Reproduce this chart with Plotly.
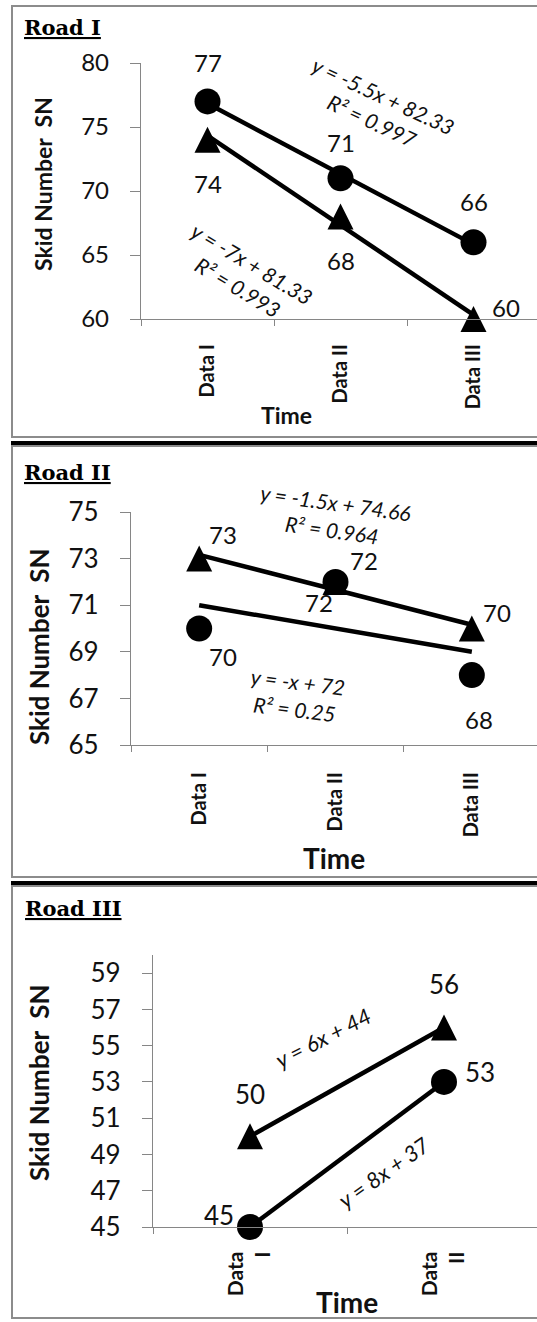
import plotly.graph_objects as go

# ---------------- data ----------------
road1_cats = ["Data I", "Data II", "Data III"]
road1_ticktext = ["Data I", "Data II", "Data III"]
road1_circles = [77, 71, 66]
road1_triangles = [74, 68, 60]
road1_circle_fit = [-5.5, 82.33]      # slope, intercept of the trendline
road1_circle_r2 = 0.997
road1_triangle_fit = [-7, 81.33]
road1_triangle_r2 = 0.993
road1_yticks = [60, 65, 70, 75, 80]

road2_cats = ["Data I", "Data II", "Data III"]
road2_ticktext = ["Data I", "Data II", "Data III"]
road2_circles = [70, 72, 68]
road2_triangles = [73, 72, 70]
road2_circle_fit = [-1, 72]
road2_circle_r2 = 0.25
road2_triangle_fit = [-1.5, 74.66]
road2_triangle_r2 = 0.964
road2_yticks = [65, 67, 69, 71, 73, 75]

road3_cats = ["Data I", "Data II"]
road3_ticktext = ["Data<br>I", "Data<br>II"]
road3_circles = [45, 53]
road3_triangles = [50, 56]
road3_circle_fit = [8, 37]
road3_circle_r2 = None
road3_triangle_fit = [6, 44]
road3_triangle_r2 = None
road3_yticks = [45, 47, 49, 51, 53, 55, 57, 59]

panel_titles = ["Road I", "Road II", "Road III"]
y_title = "Skid Number&nbsp; SN"
x_title = "Time"

panels = [
    dict(cats=road1_cats, ticktext=road1_ticktext, circles=road1_circles, triangles=road1_triangles,
         cfit=road1_circle_fit, cr2=road1_circle_r2, tfit=road1_triangle_fit, tr2=road1_triangle_r2,
         yticks=road1_yticks, title=panel_titles[0]),
    dict(cats=road2_cats, ticktext=road2_ticktext, circles=road2_circles, triangles=road2_triangles,
         cfit=road2_circle_fit, cr2=road2_circle_r2, tfit=road2_triangle_fit, tr2=road2_triangle_r2,
         yticks=road2_yticks, title=panel_titles[1]),
    dict(cats=road3_cats, ticktext=road3_ticktext, circles=road3_circles, triangles=road3_triangles,
         cfit=road3_circle_fit, cr2=road3_circle_r2, tfit=road3_triangle_fit, tr2=road3_triangle_r2,
         yticks=road3_yticks, title=panel_titles[2]),
]

# ---------------- layout / style ----------------
W, H = 537, 1322


def px(x):
    return x / W


def py(y):
    return 1 - y / H


styles = [
    dict(ax_left=141, ax_right=540, plot_top=63, plot_bot=319, yrange=[60, 80],
         tick_size=24, label_size=24, ytitle_size=23, xtitle_size=23, cat_size=20, eq_size=21,
         title_xy=(22, 28), ytitle_xy=(43, 184), xtitle_xy=(286, 415),
         circ_off=[(0, 39), (0, 36), (0, 41)], tri_off=[(0, -44), (0, -44), (32, 12)],
         circ_eq=(378, 108, 25), tri_eq=(245, 275, 31), xstand=16, ystand=16),
    dict(ax_left=131, ax_right=540, plot_top=512, plot_bot=745, yrange=[65, 75],
         tick_size=26, label_size=24, ytitle_size=26, xtitle_size=28, cat_size=20, eq_size=21,
         title_xy=(22, 473), ytitle_xy=(39, 647), xtitle_xy=(334, 858),
         circ_off=[(24, -28), (28, 21), (7, -44)], tri_off=[(24, 24), (-17, -21), (25, 16)],
         circ_eq=(296, 695, 7), tri_eq=(334, 516, 8), xstand=18, ystand=16),
    dict(ax_left=153, ax_right=541, plot_top=955, plot_bot=1227, yrange=[45, 60],
         tick_size=26, label_size=26, ytitle_size=26, xtitle_size=28, cat_size=21, eq_size=22,
         title_xy=(23, 908), ytitle_xy=(39, 1083), xtitle_xy=(347, 1302),
         circ_off=[(-31, 12), (36, 10)], tri_off=[(0, 42), (0, 44)],
         circ_eq=(383, 1172, -35), tri_eq=(323, 1037, -27), xstand=15, ystand=16),
]

axis_gray = "#868686"
txt = "#111111"
FONT = "Lato"
TRI_SIZE = 26


def eq_text(fit, r2):
    m, b = fit
    if m == -1:
        ms = "-"
    elif m == 1:
        ms = ""
    else:
        ms = f"{m:g}"
    s = f"y = {ms}x + {b:g}"
    if r2 is not None:
        s += f"<br>R² = {r2:g}"
    return "<i>" + s + "</i>"


fig = go.Figure()
annotations = []
shapes = []
layout_axes = {}

for i, (p, s) in enumerate(zip(panels, styles)):
    n = "" if i == 0 else str(i + 1)
    xref, yref = "x" + n, "y" + n
    cats = p["cats"]
    ncat = len(cats)

    # trendlines
    for fit in (p["tfit"], p["cfit"]):
        m, b = fit
        fig.add_trace(go.Scatter(
            x=[cats[0], cats[-1]], y=[m * 1 + b, m * ncat + b], mode="lines",
            line=dict(color="black", width=4.5), xaxis=xref, yaxis=yref,
            showlegend=False, hoverinfo="skip", cliponaxis=False))
    # markers (triangles: arrow head turned up and centred on the point)
    fig.add_trace(go.Scatter(
        x=cats, y=p["triangles"], mode="markers",
        marker=dict(symbol="arrow-down", angle=180, standoff=TRI_SIZE / 2,
                    size=TRI_SIZE, color="black"),
        xaxis=xref, yaxis=yref, showlegend=False, cliponaxis=False))
    fig.add_trace(go.Scatter(
        x=cats, y=p["circles"], mode="markers",
        marker=dict(symbol="circle", size=26, color="black"),
        xaxis=xref, yaxis=yref, showlegend=False, cliponaxis=False))

    rmax = -0.5 + ncat * (W - s["ax_left"]) / (s["ax_right"] - s["ax_left"])
    layout_axes["xaxis" + n] = dict(
        domain=[px(s["ax_left"]), 1], type="category", categoryorder="array", categoryarray=cats,
        range=[-0.5, rmax], tickmode="array", tickvals=cats, ticktext=p["ticktext"],
        tickson="boundaries", ticks="outside", ticklen=6, tickwidth=1.3, tickcolor=axis_gray,
        showline=True, linecolor=axis_gray, linewidth=1.3, showgrid=False, zeroline=False,
        tickangle=-90, tickfont=dict(family=FONT, size=s["cat_size"], color=txt, weight="bold"),
        ticklabelstandoff=s["xstand"], anchor=yref, fixedrange=True, automargin=False)
    layout_axes["yaxis" + n] = dict(
        domain=[py(s["plot_bot"]), py(s["plot_top"])], range=s["yrange"],
        tickmode="array", tickvals=p["yticks"],
        ticks="outside", ticklen=10, tickwidth=1.3, tickcolor=axis_gray,
        showline=True, linecolor=axis_gray, linewidth=1.3, showgrid=False, zeroline=False,
        tickfont=dict(family=FONT, size=s["tick_size"], color=txt),
        ticklabelstandoff=s["ystand"], anchor=xref, fixedrange=True, automargin=False)

    # data labels
    for c, v, (dx, dy) in zip(cats, p["circles"], s["circ_off"]):
        annotations.append(dict(x=c, y=v, xref=xref, yref=yref, text=str(v), showarrow=False,
                                xshift=dx, yshift=dy, xanchor="center", yanchor="middle",
                                font=dict(family=FONT, size=s["label_size"], color=txt)))
    for c, v, (dx, dy) in zip(cats, p["triangles"], s["tri_off"]):
        annotations.append(dict(x=c, y=v, xref=xref, yref=yref, text=str(v), showarrow=False,
                                xshift=dx, yshift=dy, xanchor="center", yanchor="middle",
                                font=dict(family=FONT, size=s["label_size"], color=txt)))

    # trendline equations
    for fit, r2, (ex, ey, ang) in ((p["cfit"], p["cr2"], s["circ_eq"]),
                                   (p["tfit"], p["tr2"], s["tri_eq"])):
        annotations.append(dict(x=px(ex), y=py(ey), xref="paper", yref="paper",
                                text=eq_text(fit, r2), showarrow=False, textangle=ang,
                                xanchor="center", yanchor="middle", align="center",
                                font=dict(family=FONT, size=s["eq_size"], color=txt)))

    # panel title
    tx, ty = s["title_xy"]
    annotations.append(dict(x=px(tx), y=py(ty), xref="paper", yref="paper",
                            text="<b><u>" + p["title"] + "</u></b>", showarrow=False,
                            xanchor="left", yanchor="middle",
                            font=dict(family="DejaVu Serif", size=21, color="black")))
    # axis titles
    yx, yy = s["ytitle_xy"]
    annotations.append(dict(x=px(yx), y=py(yy), xref="paper", yref="paper",
                            text="<b>" + y_title + "</b>", showarrow=False, textangle=-90,
                            xanchor="center", yanchor="middle",
                            font=dict(family=FONT, size=s["ytitle_size"], color=txt)))
    xx, xy = s["xtitle_xy"]
    annotations.append(dict(x=px(xx), y=py(xy), xref="paper", yref="paper",
                            text="<b>" + x_title + "</b>", showarrow=False,
                            xanchor="center", yanchor="middle",
                            font=dict(family=FONT, size=s["xtitle_size"], color=txt)))

# panel frames and separators
frames = [(6, 437), (446, 877), (886, 1318)]
for top, bot in frames:
    shapes.append(dict(type="rect", xref="paper", yref="paper", x0=px(12), x1=1.05,
                       y0=py(bot), y1=py(top), line=dict(color="#8c8c8c", width=2),
                       fillcolor="rgba(0,0,0,0)", layer="below"))
for ysep in (443, 883):
    shapes.append(dict(type="line", xref="paper", yref="paper", x0=px(11), x1=1.05,
                       y0=py(ysep), y1=py(ysep), line=dict(color="black", width=4)))

fig.update_layout(
    width=W, height=H, margin=dict(l=0, r=0, t=0, b=0, autoexpand=False),
    paper_bgcolor="white", plot_bgcolor="white", showlegend=False,
    annotations=annotations, shapes=shapes, **layout_axes)

fig.write_html("out.html")
